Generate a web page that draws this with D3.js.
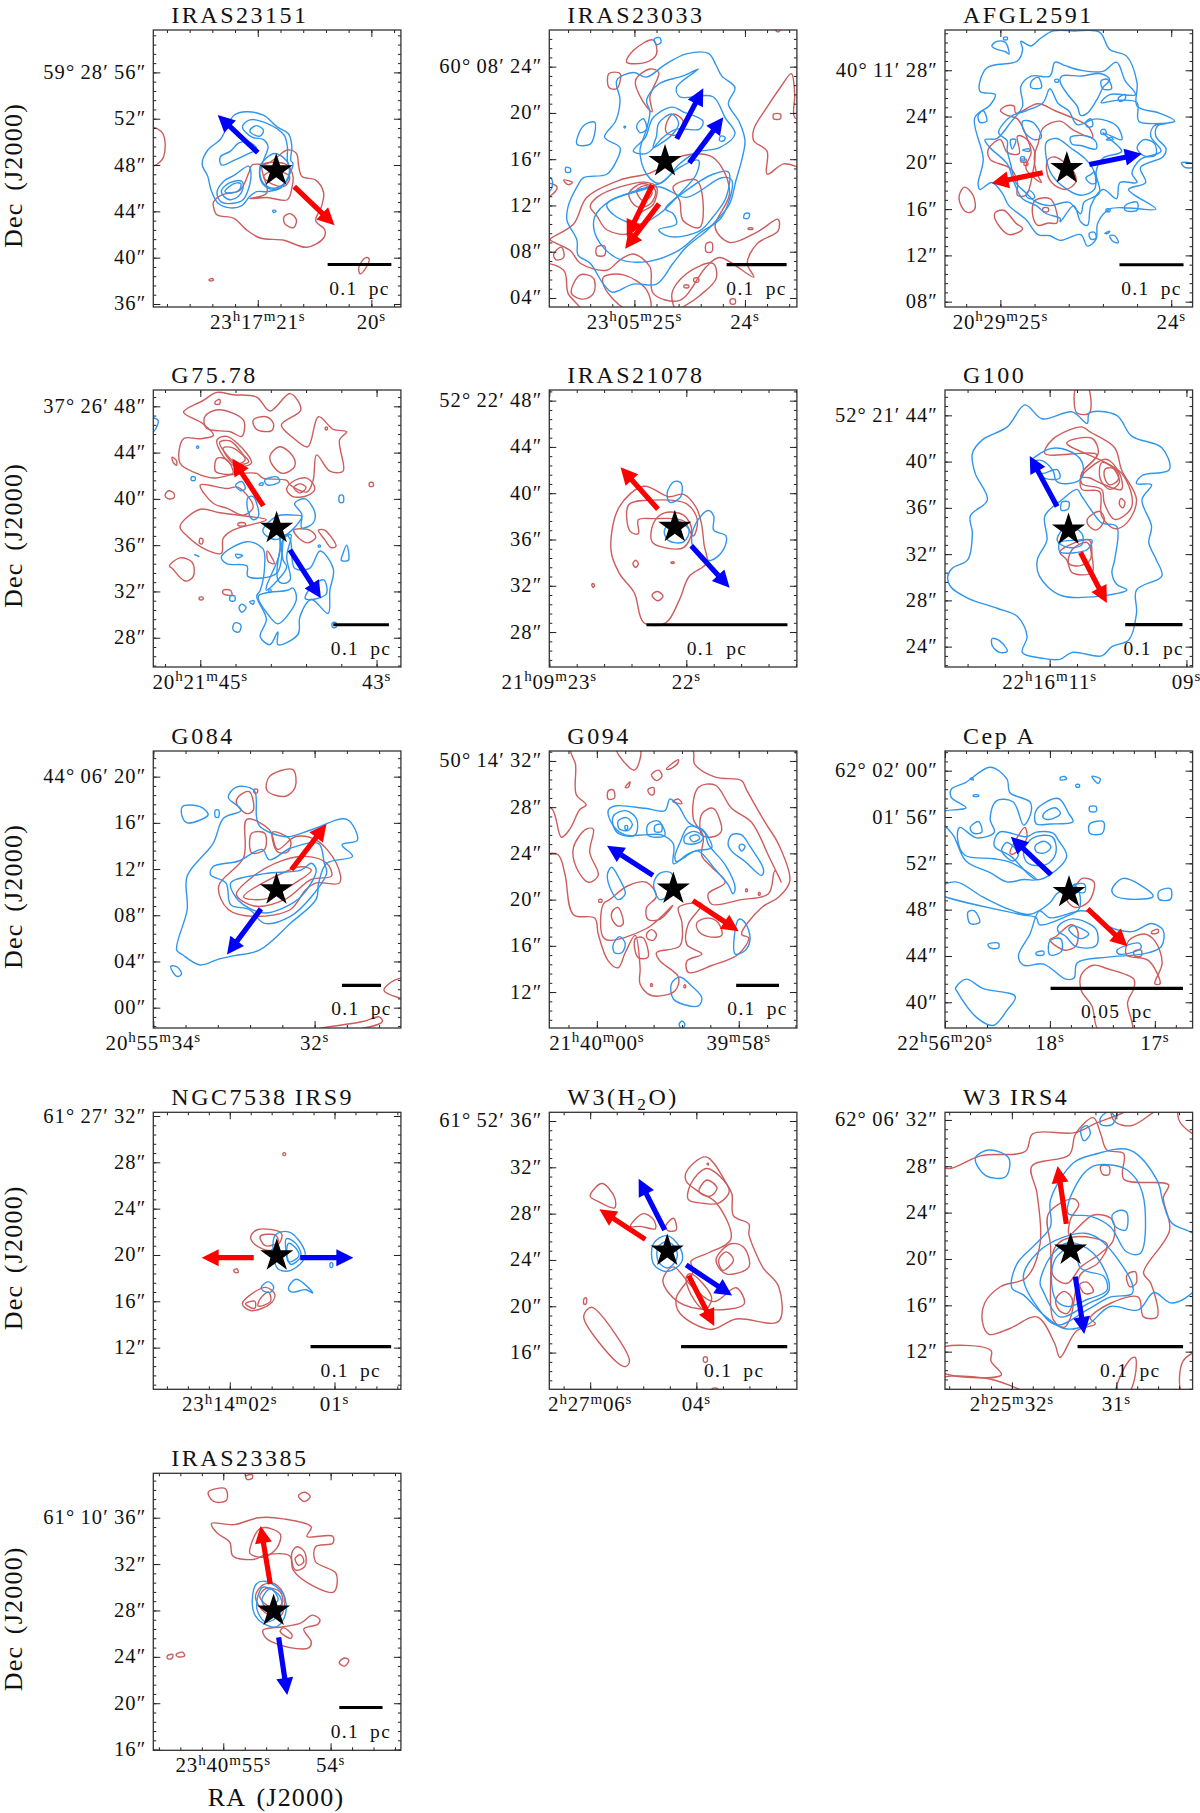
<!DOCTYPE html>
<html><head><meta charset="utf-8">
<script src="https://cdn.jsdelivr.net/npm/d3@7"></script>
<style>html,body{margin:0;padding:0;background:#fff}svg{display:block}text{font-family:"Liberation Serif",serif;fill:#111}</style>
</head><body><div id="chart"></div>
<script>
const panelTitles=["IRAS23151","IRAS23033","AFGL2591","G75.78","IRAS21078","G100","G084","G094","Cep\u2009A","NGC7538\u2009IRS9","W3(H_2O)","W3\u2009IRS4","IRAS23385"];
const raDomains=[[21.92,19.74],[25.77,23.53],[25.324,23.875],[45.533,42.724],[23.0,21.193],[12.53,8.91],[34.0,30.93],[60.67,57.18],[19.0,16.64],[2.73,0.366],[6.77,2.106],[32.64,30.27],[55.652,53.345]];
const decDomains=[[35.74,59.66],[3.22,27.17],[7.54,31.48],[25.47,49.41],[24.98,48.92],[22.24,46.19],[-1.76,22.22],[8.89,32.86],[37.78,61.7],[8.4,32.32],[12.83,36.75],[8.75,32.66],[15.94,39.83]];
const raTicks=[[21,20],[25,24],[25,24],[45,43],[23,22],[11,9],[34,32],[60,58],[19,18,17],[2,1],[6,4],[32,31],[55,54]];
const raLabels=[["23^h17^m21^s","20^s"],["23^h05^m25^s","24^s"],["20^h29^m25^s","24^s"],["20^h21^m45^s","43^s"],["21^h09^m23^s","22^s"],["22^h16^m11^s","09^s"],["20^h55^m34^s","32^s"],["21^h40^m00^s","39^m58^s"],["22^h56^m20^s","18^s","17^s"],["23^h14^m02^s","01^s"],["2^h27^m06^s","04^s"],["2^h25^m32^s","31^s"],["23^h40^m55^s","54^s"]];
const raMinor=[0.2,0.2,0.2,0.4,0.2,0.4,0.4,0.4,0.2,0.2,0.5,0.2,0.2];
const decTicks=[[56,52,48,44,40,36],[24,20,16,12,8,4],[28,24,20,16,12,8],[48,44,40,36,32,28],[48,44,40,36,32,28],[44,40,36,32,28,24],[20,16,12,8,4,0],[32,28,24,20,16,12],[60,56,52,48,44,40],[32,28,24,20,16,12],[36,32,28,24,20,16],[32,28,24,20,16,12],[36,32,28,24,20,16]];
const decLabels=[["59° 28′ 56″","52″","48″","44″","40″","36″"],["60° 08′ 24″","20″","16″","12″","08″","04″"],["40° 11′ 28″","24″","20″","16″","12″","08″"],["37° 26′ 48″","44″","40″","36″","32″","28″"],["52° 22′ 48″","44″","40″","36″","32″","28″"],["52° 21′ 44″","40″","36″","32″","28″","24″"],["44° 06′ 20″","16″","12″","08″","04″","00″"],["50° 14′ 32″","28″","24″","20″","16″","12″"],["62° 02′ 00″","01′ 56″","52″","48″","44″","40″"],["61° 27′ 32″","28″","24″","20″","16″","12″"],["61° 52′ 36″","32″","28″","24″","20″","16″"],["62° 06′ 32″","28″","24″","20″","16″","12″"],["61° 10′ 36″","32″","28″","24″","20″","16″"]];
const stars=[[20.838,47.51],[24.723,15.80],[24.611,19.51],[44.134,37.47],[22.084,37.06],[10.724,34.10],[32.473,10.22],[58.921,20.92],[17.818,49.50],[1.551,19.94],[4.548,24.78],[31.438,20.78],[54.531,27.97]];
const scaleBars=[[20.385,19.824,39.41],[24.166,23.623,6.88],[24.303,23.928,11.19],[43.491,42.860,29.12],[22.291,21.262,28.63],[9.895,9.058,25.90],[31.661,31.176,1.93],[58.036,57.432,12.58],[17.994,16.732,41.21],[1.229,0.459,12.09],[4.288,2.288,16.52],[31.371,30.361,12.43],[53.919,53.516,19.63]];
const scaleLabels=["0.1 pc","0.1 pc","0.1 pc","0.1 pc","0.1 pc","0.1 pc","0.1 pc","0.1 pc","0.05 pc","0.1 pc","0.1 pc","0.1 pc","0.1 pc"];
const blueArrows=[[[21,49.07,21.353,52.32]],[[24.617,17.76,24.377,22.13],[24.503,15.68,24.196,19.63]],[[24.479,19.86,24.172,20.78]],[[43.983,35.60,43.631,31.42]],[[21.964,35.45,21.684,31.83]],[[10.891,36.12,11.291,40.49]],[[32.665,8.55,33.086,4.60]],[[59.209,22.10,59.856,24.66]],[[17.99,51.02,18.373,54.30]],[[1.327,19.77,0.82,19.77]],[[4.596,26.59,5.087,31.02],[4.192,23.57,3.327,20.92]],[[31.393,18.47,31.307,13.53]],[[54.484,25.67,54.404,20.72]]];
const redArrows=[[[20.679,46.13,20.324,42.81]],[[24.837,13.78,25.069,9.27],[24.777,12.14,25.084,8.26]],[[24.752,19.14,25.051,18.24]],[[44.285,39.40,44.637,43.48]],[[22.207,38.62,22.48,42.24]],[[10.549,32.14,10.164,27.77]],[[32.288,11.94,31.853,15.91]],[[58.647,19.91,58,17.27]],[[17.64,48.06,17.261,44.83]],[[1.771,19.77,2.268,19.77]],[[4.962,25.78,5.827,28.37],[4.144,22.65,3.663,18.30]],[[31.479,23.02,31.562,28.03]],[[54.562,30.27,54.652,35.28]]];

// contours: flat RA(s),Dec(") vertex lists per panel
const blue1=[[21.21,52.3,21.10,52.6,20.95,52.3,20.83,51.3,20.73,50.7,20.70,49.6,20.71,48.4,20.69,48.1,20.73,47.0,20.80,46.0,20.92,45.7,21.01,45.7,21.07,45.3,21.14,44.5,21.24,44.3,21.35,44.7,21.41,45.8,21.44,47.0,21.49,48.1,21.44,49.3,21.33,50.2,21.27,51.3],
[21.135,51.3,21.07,51.9,20.92,51.6,20.77,50.6,20.74,49.6,20.74,48.4,20.72,47.4,20.77,46.3,20.86,45.9,20.95,46.3,20.985,47.3,20.95,48.4,20.91,49.6,20.95,50.2,21.05,50.4],
[21.07,51.0,21.01,51.4,20.95,51.0,20.98,50.5,21.05,50.7],
[21.33,48.7,21.24,49.2,21.17,49.9,21.08,50.0,21.01,49.4,21.1,48.9,21.21,48.4,21.32,48.0],
[21.36,45.6,21.30,46.6,21.21,47.1,21.08,47.9,21.06,47.3,21.08,46.0,21.13,45.0,21.21,44.7,21.32,44.8],
[21.32,45.8,21.24,46.5,21.14,46.6,21.13,46.0,21.17,45.3,21.24,45.0,21.30,45.3],
[21.29,45.7,21.21,46.4,21.15,46.4,21.16,45.9,21.24,45.6],
[20.85,49.0,20.73,48.1,20.74,46.7,20.85,46.0,20.95,46.4,20.98,47.9],
[20.87,44.05,20.85,44.1,20.84,44.0,20.86,43.9]];
const red1=[[21.39,44.8,21.32,45.4,21.16,45.8,21.08,47.3,21.05,48,20.92,48.1,20.83,48.7,20.74,49.3,20.66,49.0,20.64,47.9,20.61,47.0,20.49,46.7,20.42,45.6,20.44,44.4,20.49,43.2,20.41,42.4,20.42,41.7,20.57,40.9,20.77,41.5,20.98,41.7,21.10,42.4,21.21,43.4,21.36,43.7,21.39,44.4],
[21.07,45.1,20.92,45.6,20.96,48.0,20.74,48.0,20.69,47.0,20.70,46.0,20.74,45.0,20.92,45.2],
[20.95,47.0,20.86,46.3,20.76,46.2,20.72,47.0,20.86,47.5],
[20.715,43.8,20.66,43.25,20.685,42.6,20.76,42.9,20.77,43.5],
[22.2,51.2,21.85,50.9,21.83,48.7,21.92,47.9,22.2,47.5],
[20.11,39.2,20.05,40.0,20.02,39.9,20.05,39.1,20.10,38.6],
[21.43,38.1,21.40,38.2,21.39,38.05,21.42,38.0]];
const blue2=[[25.16,22.8,25.01,23.5,24.89,23.1,24.72,24.2,24.53,25.1,24.33,25.15,24.26,24.1,24.21,23.2,24.09,22.2,24.15,20.8,24.05,19.2,24.0,17.6,24.03,15.9,24.08,14.2,24.14,12.1,24.23,11.0,24.35,9.8,24.53,8.4,24.65,7.0,24.80,5.2,25.01,5.2,25.2,4.5,25.28,5.2,25.40,7.0,25.51,7.7,25.52,9.0,25.61,10.7,25.6,11.9,25.52,13.6,25.46,14.4,25.25,14.7,25.16,15.9,25.13,17.0,25.27,17.9,25.17,19.3,25.13,21.1],
[24.89,21.1,24.78,22.5,24.56,23.2,24.42,23.8,24.62,22.2,24.59,21.4,24.29,21.4,24.18,19.6,24.09,18.2,24.23,17.0,24.44,16.6,24.59,15.6,24.77,13.9,24.89,14.7,24.95,16.7,24.89,18.6,24.86,20.1],
[25.36,11.0,25.22,12.4,24.98,13.2,24.77,13.6,24.53,12.7,24.21,14.4,24.12,14.2,24.21,11.0,24.41,9.6,24.62,8.0,24.93,7.1,25.17,7.5,25.34,9.2],
[24.83,19.6,24.66,20.5,24.56,20.1,24.38,19.3,24.41,18.6,24.62,18.6,24.74,17.9,24.89,16.5,25.01,16.7,24.90,17.9],
[24.78,19.1,24.66,19.9,24.60,19.1,24.65,18.2,24.77,17.3,24.83,17.0,24.80,18.0],
[25.25,12.1,24.98,13.3,24.77,13.9,24.59,15.3,24.42,15.9,24.44,14.7,24.59,13.0,24.77,11.3,24.95,10.4,25.16,11.0],
[24.72,11.7,24.53,13.3,24.29,14.7,24.15,14.9,24.17,12.7,24.29,11.0,24.41,9.8,24.68,9.3,24.78,9.9,24.62,10.4,24.65,11.3],
[25.52,17.3,25.46,18.9,25.36,19.2,25.36,18.2,25.4,17.3],[24.98,18.9,24.92,19.5,24.89,18.6,24.95,18.3],[25.095,18.8,25.085,18.85,25.08,18.75,25.09,18.7],[25.62,15.3,25.58,15.2,25.58,14.9,25.62,14.9],[24.82,26.4,24.77,26.5,24.76,26.1,24.8,25.9],[24.22,18.0,24.18,17.9,24.19,17.6,24.23,17.6],[24.0,11.3,23.96,11.3,23.97,10.9,24.01,10.9],[25.9,14.4,25.75,14.3,25.76,13.3,25.9,13.2]];
const red2=[[25.07,24.4,25.01,25.4,24.83,26.3,24.80,25.1,24.89,24.4],[25.23,23.4,25.13,23.4,25.16,22.1,25.23,22.2],[24.99,22.8,24.86,23.8,24.78,23.5,24.86,21.4,24.84,20.1,24.93,21.1],[24.71,19.1,24.65,19.9,24.56,19.3,24.62,18.1,24.71,18.3],
[23.92,18.6,23.80,20.5,23.68,22.2,23.58,23.4,23.55,21.6,23.55,19.6,23.44,19.3,23.44,15.3,23.65,15.6,23.80,14.7,23.80,16.7,23.92,17.6],
[25.76,9.1,25.55,10.4,25.43,12.7,25.13,14.2,24.86,14.8,24.56,16.3,24.32,16.3,24.21,15.3,24.14,13.0,24.27,10.1,24.14,8.8,23.89,9.7,23.70,10.8,23.70,9.8,23.89,8.7,23.98,7.0,23.92,5.8,24.23,7.5,24.35,6.7,24.59,3.8,24.83,4.4,24.86,6.7,25.01,7.8,25.13,7.3,25.25,6.4,25.49,7.0,25.58,8.1,25.76,9.0],
[25.40,11.9,25.34,12.7,25.13,13.6,24.89,14.0,24.80,13.6,24.83,12.1,24.95,11.3,25.04,9.6,25.25,9.9,25.34,11.1],
[25.05,13.0,24.93,13.9,24.81,13.3,24.86,12.1,24.98,11.9],[24.98,13.3,24.89,13.7,24.84,13.0,24.92,12.4],[24.65,13.6,24.44,14.2,24.38,12.4,24.41,10.1,24.56,10.7,24.59,12.4],
[25.9,6.9,25.64,6.4,25.60,4.4,25.49,3.0,25.9,3.0],[25.57,4.4,25.49,6.0,25.37,5.7,25.37,4.4,25.46,3.9],[25.28,5.8,25.1,6.0,24.89,4.7,24.86,3.0,25.07,3.0,25.27,4.9],[25.73,7.8,25.66,8.4,25.64,7.5,25.71,7.3],[25.34,8.4,25.27,8.5,25.27,7.7,25.34,7.7],
[24.66,4.4,24.53,6.1,24.29,7.0,24.26,5.7,24.41,4.2,24.53,3.4,24.62,3.0],[24.46,5.7,24.42,5.7,24.42,5.4,24.46,5.4],[24.55,5.1,24.51,5.1,24.51,4.9,24.55,4.9],[24.13,3.9,24.09,3.9,24.09,3.5,24.13,3.5],[24.35,8.7,24.3,8.8,24.3,8.0,24.35,8.0],[23.97,10.05,23.93,10.05,23.93,9.95,23.97,9.95],[23.74,19.9,23.68,19.9,23.68,19.5,23.74,19.5],[25.64,14.2,25.56,14.0,25.6,13.8],[25.9,14,25.7,13.6,25.75,12.9,25.9,12.5],[23.74,27.4,23.67,27.4,23.7,27.0]];
const blue3=[[25.05,30.1,25.02,30.5,24.97,30.4,24.95,29.4,24.97,29.6,25.02,29.8],
[25.08,28.2,24.90,28.8,24.87,29.8,24.88,30.5,24.82,30.1,24.77,30.7,24.69,31.4,24.57,31.4,24.42,31.3,24.36,29.8,24.26,29.2,24.20,26.9,24.20,24.9,24.07,24.3,23.98,23.6,24.08,23.2,24.09,22.3,24.03,21.2,24.05,20.5,24.18,19.6,24.15,18.3,24.25,17.7,24.09,16,24.25,16.1,24.36,16,24.43,14.8,24.44,13.4,24.49,12.8,24.53,13.8,24.65,13.3,24.71,13.7,24.78,13.8,24.85,15.1,24.95,16.3,24.99,17.4,25.05,18.3,25.12,17.7,25.13,18.2,25.10,20.3,25.15,23.9,25.06,25,25.03,25.9,25.12,26.2],
[24.87,24.9,24.88,26.6,24.82,27.5,24.71,27.5,24.68,28.7,24.62,28.4,24.53,28,24.40,27.9,24.32,28.7,24.27,27.1,24.21,25.9,24.36,25.9,24.41,25.2,24.32,25.4,24.20,25.2,24.19,23.6,24.03,23.4,24.10,23.2,24.12,22.3,24.06,21,24.18,20.3,24.23,19.1,24.20,18.3,24.30,18.3,24.32,16.9,24.40,17.7,24.47,16.3,24.49,14.6,24.53,14.9,24.57,16.3,24.65,14.9,24.65,15.2,24.73,15.6,24.79,16.3,24.87,16.9,24.92,18.3,24.96,19.9,25.06,21.3,25.09,22,25.02,22.1,24.94,23.5],
[24.64,27.5,24.53,27.5,24.41,27.7,24.36,27.2,24.40,26.5,24.43,25.6,24.49,24.3,24.53,24.1,24.55,24.9,24.60,25.8,24.65,27],
[25.01,22.6,24.94,24,24.85,24.5,24.75,25.2,24.71,26.4,24.66,25.1,24.60,24.5,24.55,23.3,24.44,23.8,24.32,23.2,24.29,22,24.40,22.6,24.29,21,24.40,20.4,24.44,19.2,24.42,17.4,24.51,16.6,24.53,15.6,24.60,16.6,24.71,16.3,24.79,16.6,24.85,17.4,24.91,18.3,24.94,19.9,24.96,21.1,24.96,21.9],
[24.73,21.8,24.67,22.1,24.59,21.3,24.50,20.3,24.45,19.2,24.45,17.7,24.53,17.2,24.61,17.7,24.70,19,24.73,20.3],
[24.82,27,24.78,27.4,24.76,26.5,24.82,26.5],[24.68,27.2,24.66,27.2,24.66,27,24.68,27],[25.13,24.1,25.10,24.5,25.08,23.6,25.12,23.5],[24.87,23.6,24.81,23.5,24.76,22.2,24.80,22,24.86,22.7],[24.50,23.5,24.47,23.8,24.46,23.2,24.49,23.1],[24.41,22.8,24.39,22.9,24.38,22.5,24.41,22.5],[24.38,22,24.35,22.2,24.34,22],[24.59,22.2,24.49,22.3,24.44,21.8,24.44,21.2,24.53,21.5,24.58,21.6],[24.20,21.3,24.16,22,24.10,21.7,24.09,20.7,24.16,20.6],[24.41,27.1,24.37,27.2,24.35,26.4,24.40,26.4],[24.31,25.6,24.27,25.9,24.27,25.5,24.30,25.3],[24.94,22,24.91,22,24.93,21.2],[24.87,21.1,24.83,21.2,24.83,21],[24.88,20.5,24.86,20.5,24.86,20.2,24.88,20.2],[24.47,19,24.45,19.2,24.44,18.3,24.47,18.2,24.50,18.7],[24.83,17.6,24.81,17.4,24.80,17,24.83,16.9,24.85,17.2],[24.27,16.3,24.20,16.6,24.20,15.9,24.27,15.9],[24.38,16,24.36,16,24.36,15.8,24.38,15.8],[24.39,13.9,24.36,14.1,24.37,13.9],[24.36,13.7,24.33,13.7,24.31,13.1,24.34,13.2],[24.48,13.9,24.45,14,24.44,13.5,24.47,13.4],[23.94,20,23.89,20,23.85,19.7,23.92,19.6],[24.98,30.85,24.96,30.85,24.96,30.65,24.98,30.65]];
const red3=[[25,24.5,24.97,24.9,24.92,24.9,24.91,24.3,24.78,25.1,24.68,24.5,24.58,23.9,24.49,23.2,24.46,22.2,24.57,22.8,24.65,23.6,24.75,23,24.78,21.6,24.80,20.7,24.79,19.2,24.76,18.3,24.85,19.5,24.82,20.9,24.84,22.0,24.90,23.8,24.96,24.1],
[25.07,21.2,25,22,24.96,20.9,24.89,20.8,24.90,22.3,24.86,22.2,24.80,21,24.81,19.2,24.85,17.2,24.90,17.2,24.90,18.3,24.94,19.5,25.06,20.3],
[24.72,20.3,24.68,20.5,24.57,19.2,24.56,18.3,24.62,17.7,24.70,18.3,24.73,19.5],
[24.80,16.7,24.71,16.9,24.67,15.7,24.67,14.8,24.72,14.8,24.78,14.6,24.81,15.4],
[24.88,20.3,24.85,20.3,24.85,20.1,24.88,20.1],[24.86,20,24.84,20,24.84,19.8,24.86,19.8],[24.75,16.1,24.72,16.1,24.72,15.8,24.75,15.8],
[25.24,17.2,25.21,17.9,25.16,17.2,25.15,16,25.19,15.7,25.23,16.3],[25.03,15.7,24.98,15.9,24.91,14.8,24.87,14.3,24.95,13.8,25.03,15.1]];
const blue4=[[44.76,35,44.47,36.3,44.29,35.7,44.27,34.2,44.32,32.1,44.36,31.6,44.25,29.6,44.32,28.1,44.21,27.4,44.12,28.5,44.12,27.4,43.89,28.3,43.87,29.8,43.74,31.3,43.55,30.1,43.53,32.1,43.49,33.9,43.64,35.5,43.76,34,43.93,34,43.98,36.5,44.04,36.9,44.13,33.6,44.46,33.3,44.47,34.2,44.70,34.4],
[44.34,31.6,44.01,32.1,43.95,32.3,43.91,31.3,44.12,29.2,44.21,29.8],[43.81,31.4,43.74,32.4,43.6,33,43.57,31.8,43.74,31.3],[44.12,33,44.05,36.6,43.97,36.9,44.02,35.0,43.98,33,44.06,32.7],[44.25,32.4,44.1,35.3,44.1,36.9,44.06,34.7,44.02,34.1,44.25,32.1],[44.29,37.3,44.13,38.5,43.94,38.6,43.85,38.5,43.96,37.3,44.13,36.5,44.25,36.8],[43.93,39.6,43.81,40,43.7,38.8,43.72,37.9,43.85,37.5,43.85,38.7],[44.46,40.1,44.4,40.2,44.34,38.5,44.4,38.2,44.46,39],[44.6,41.2,44.53,41.5,44.49,40.9,44.54,40.7],[44.27,41.6,44.13,41.9,44.1,41.5,44.24,41.2],[44.33,41.3,44.29,41.4,44.29,41.2,44.33,41.2],[45.1,41.9,45.06,41.9,45.06,41.6,45.1,41.6],[43.42,40.3,43.38,40.3,43.38,39.7,43.42,39.7],[43.38,35.3,43.34,36,43.32,34.7,43.4,34.7],[44.6,29.3,44.54,29.1,44.56,28.5,44.62,28.6,44.63,29],[44.53,30.9,44.48,30.6,44.53,30.2,44.56,30.6],[44.44,31.1,44.39,31.2,44.4,30.9],[44.66,31.6,44.61,31.6,44.61,31.2,44.66,31.2],[44.6,35.2,44.52,35.1,44.58,34.9],[45.6,47,45.48,46.8,45.52,45.9,45.6,45.6],[45.07,35.2,45.04,35.1,45.01,35.0],[43.5,29.3,43.46,29.3,43.46,28.9,43.5,28.9],[43.66,36,43.64,36,43.64,35.85,43.66,35.85],[44.22,32.2,44.2,32.2,44.2,31.95,44.22,31.95],[45.04,44.55,45.02,44.55,45.02,44.4,45.04,44.4]];
const red4=[[45.19,47.5,44.97,48.5,44.81,49.2,44.63,49.0,44.36,48.8,44.21,47.6,43.98,49.1,43.86,47.7,44.08,46.4,43.95,45.3,43.78,44.5,43.66,47.1,43.49,46.0,43.34,45.8,43.42,45.1,43.38,42.4,43.53,42.4,43.68,43.8,43.72,41.6,43.79,40.6,43.98,41.2,44.02,41.6,44.29,41.8,44.36,42.2,44.63,42.1,44.85,41.8,45.04,42.2,45.23,43.1,45.19,45.2,45.0,45.2,44.85,45.5,44.97,46.5],
[44.95,47.1,44.8,47.7,44.51,46.8,44.53,45.4,44.66,45.8,44.93,46.1],[44.81,45.1,44.70,45.4,44.47,43.9,44.42,43.1,44.59,42.8,44.74,43.7],[44.78,44.9,44.66,45.0,44.51,43.8,44.45,43.2,44.57,43.0,44.72,44.0],[44.74,44.4,44.63,44.4,44.49,43.4,44.61,43.0],[44.83,42.4,44.81,43.5,44.70,43.4,44.63,42.2,44.78,42.2],[44.4,46.8,44.25,47.1,44.17,46.5,44.19,45.9,44.36,46.0],[44.21,43.7,44.10,44.5,43.95,43.7,43.93,42.8,44.06,42.2,44.17,42.8],[44.83,48.4,44.78,48.6,44.78,48.2,44.83,48.2],[45.32,43.6,45.27,43.3,45.27,42.9,45.31,43.2],[45.36,40.7,45.3,40.5,45.3,40.1,45.36,40.0,45.4,40.3],[44.02,40.8,43.95,41.5,43.79,41.8,43.7,40.9,43.78,40.3,43.95,40.2],[43.94,41,43.87,41.3,43.8,41,43.87,40.5],[45,41.2,44.70,40.9,44.57,41,44.4,39.3,44.51,38.6,44.7,39.2,44.85,39.6],[45.23,37.6,45,39.1,44.78,38.8,44.47,38.5,44.25,38.2,44.63,37.3,44.74,36.6,44.76,35.3,44.93,35.6,45.15,36.8],[44.23,34.6,44.16,34.4,44.24,35.5],[44.57,37.9,44.49,37.9,44.49,37.7,44.57,37.7],[45.35,34.2,45.23,34.9,45.09,34.5,45.08,33.3,45.17,32.9,45.32,34],[44.74,32.1,44.66,32.1,44.64,31.7,44.74,31.8],[45.01,31.5,44.97,31.5,44.97,31.3,45.01,31.3],[43.94,37.3,43.76,37.3,43.69,36.7,43.78,36.2,43.88,36.6],[43.66,37.3,43.59,37.3,43.46,35.9,43.52,35.8,43.59,36.5],[43.58,46.2,43.56,46.2,43.56,46,43.58,46],[43.08,41.4,43.04,41.4,43.04,41.1,43.08,41.1],[45,36.6,44.97,36.5,44.98,36.1,45.01,36.2]];
const blue5=[[22.14,40.0,22.09,41.0,22.04,40.9,22.04,39.7,22.12,39.2],[21.96,35.7,21.93,37.4,21.84,38.5,21.8,38,21.8,36.8,21.71,36.3,21.73,35.1,21.82,34.2,21.9,34.5],[22.07,37.6,21.98,36.8,22.02,35.8,22.13,35.9,22.16,36.8]];
const red5=[[22.55,35.1,22.49,38.8,22.31,40.6,22.13,39.7,22.02,39.9,21.93,38.8,21.89,37.4,21.87,35.5,21.85,34,21.98,32.8,22.05,30.8,22.15,28.8,22.31,28.8,22.38,31.4,22.49,33.1],[22.41,36.7,22.42,39,22.25,39.4,22,39.1,21.92,37.7,21.95,36.3,22.02,37.6,22.24,37.8,22.35,37.7,22.35,36.5],[22.16,38.3,22.02,38.1,21.96,36.8,22.02,35.3,22.16,35.3,22.25,35.8,22.24,37.4],[22.25,31.2,22.21,31.5,22.17,31.1,22.21,30.7],[22.39,33.9,22.37,34.2,22.35,33.9,22.37,33.6],[22.69,32.1,22.68,32.2,22.67,32,22.68,31.85],[22.11,34.05,22.09,34.05,22.09,33.95,22.11,33.95]];
const blue6=[[12.49,30.1,12.42,30.8,12.2,31.5,12.13,33.8,12.16,35.3,11.91,36.7,12.09,39,12.13,40.7,11.98,41.9,11.62,43,11.36,44.9,11.11,43.7,10.67,44.3,10.45,43.3,10.42,44.2,10.02,44,9.8,42.2,9.36,41.2,9.25,39.3,9.65,38.8,9.73,38.1,9.51,38,9.65,36.7,9.51,34.4,9.55,33,9.44,31.5,9.36,30.1,9.73,28.9,9.73,26.9,9.84,24.6,10.09,24,10.24,23.2,10.67,23.5,10.85,22.9,11.11,23,11.4,23.5,11.33,24.9,11.47,26.6,11.76,27.3,12.2,28.2,12.45,29.2],
[11.18,31.5,11.04,33.2,11.07,35.3,10.82,36.7,10.6,37.6,10.53,37,10.38,35.7,10.24,34.7,10.02,34.4,10.05,31.5,10.09,30.4,10.02,29.4,9.87,28.9,10.82,28.4,11.15,30.1],
[11.26,40.1,11.0,41.1,10.75,41,10.53,40,10.53,38.6,10.72,38.1,10.9,38.3,10.95,39.2,11.12,40.1],
[11.07,39,10.89,39.3,10.85,38.6,11.04,38.5,11.14,38.9],[10.75,34.4,10.53,33.8,10.53,32.8,10.75,32.6,10.89,33.2],[11.84,24.7,11.73,24.5,11.62,23.6,11.73,23.5,11.84,24.1],[10.82,36.5,10.72,36.5,10.73,35.9,10.83,35.8],[10.85,32.2,10.67,32.1,10.45,32.4,10.38,33.2,10.6,33.2,10.85,33]];
const red6=[[10.6,46.5,10.45,46.5,10.42,44.2,10.6,44.2,10.64,45],[11.07,40.7,10.96,41.9,10.53,43,10.42,42.6,10.05,41.2,9.95,39.3,9.73,36.7,9.87,34.7,10.05,34.2,10.24,35.3,10.27,37.4,10.53,37.6,10.53,39,10.31,40.6],[10.75,41.6,10.38,42,10.29,40.7,10.53,39,10.53,38.1,10.24,37.6,10.2,36.4,10.05,35,9.8,36.1,9.95,39],[10.53,38.7,10.18,40.2,9.98,39,9.95,37.6,10.24,38.1,10.42,38.6],[10.18,39.4,10.03,39.3,10,38.4,10.13,38,10.2,38.7],[10.24,39.9,10.08,39.5,9.98,38.2,10.12,37.6,10.26,38.5],[9.96,36.8,9.9,36.5,9.93,36,9.98,36.3],[10.85,32.2,10.42,33.2,10.38,31.8,10.38,30.4,10.67,30.4,10.75,31.5],[10.45,35,10.27,35.7,10.2,35,10.31,34.1,10.42,34.4],[10.67,32.4,10.45,33,10.4,31.6,10.55,31,10.72,31.2]];
const blue7=[[33.71,5,33.58,8.5,33.58,11.4,33.26,14.2,33.13,16.4,32.91,17.1,33.07,18.2,32.97,19.1,32.75,18.8,32.72,16.5,32.68,15.7,32.36,14.8,32.04,15.4,31.6,16.3,31.47,14.5,31.66,14.1,31.53,13.1,31.85,12.5,31.95,10.8,31.98,9.4,32.3,7.3,32.68,5,33,4.5,33.19,4.2,33.42,3.7,33.64,4.6],
[33.29,11.5,33.26,12.2,32.94,12.7,32.65,13.7,32.56,12.8,32.3,13.8,31.95,14.2,31.88,12.5,31.85,11.7,32.04,9.6,32.3,7.9,32.62,7.3,32.81,8.5,33.04,8.9,33.1,10.8],
[33.04,10.8,32.62,11.6,32.17,11.9,32.04,12.5,31.98,11.9,32.17,9.6,32.4,8.6,32.62,8.2,32.88,8.9,33,9.8],
[33.64,17.4,33.42,17.4,33.32,16.7,33.58,16,33.64,16.5],[33.23,17.1,33.19,17.1,33.19,16.5,33.23,16.5],[33.78,3.6,33.7,3.5,33.65,2.9,33.7,2.7,33.76,3.1]];
const red7=[[32.56,20,32.27,20.6,32.24,19.1,32.36,18.3,32.59,18.8],[32.75,18.9,32.71,18.9,32.71,18.6,32.75,18.6],[32.94,18.3,32.81,18.7,32.76,17.1,32.84,16.8,32.97,17.7],
[33.19,10.5,32.88,13,32.84,16.3,32.56,15.4,32.46,13.7,32.24,14.8,31.98,14.5,31.73,12.5,31.69,10.8,31.98,10.8,32.11,10.2,32.3,8.5,32.75,7.9,33.07,8.5],
[32.97,9.8,32.81,11.1,32.49,12.5,32.11,13.1,31.85,12.5,31.79,11.4,32.04,11.1,32.36,9.4,32.75,8.8],[32.88,9.6,32.17,12.2,32.04,11.9,32.24,10.8,32.62,9.4],[32.78,13.4,32.78,15.1,32.62,15.1,32.62,13.7],[32.52,15.2,32.3,14.5,32.33,13.5,32.46,13.5],
[31.14,1.5,31.0,2.4,30.8,2.5,30.8,0.8],[32,-1.9,31.4,-1.2,31.2,-0.8,31.16,-1.2,31.5,-1.9]];
const blue8=[[59.84,27.7,59.75,28.1,59.32,27.9,59.04,27.7,58.97,28.7,58.85,28.1,58.71,26.7,58.48,25.8,58.43,24.8,58.19,23,58.05,21,58.08,20.5,58.15,21.3,58.33,22.6,58.57,24.2,58.73,23.9,58.92,23.1,58.92,24.8,59.09,25.6,59.32,25.6,59.6,25.6,59.77,26.4],
[59.77,27.2,59.6,27.7,59.44,27,59.46,25.6,59.65,25.6,59.75,26.1],[59.7,26.8,59.58,27.1,59.5,26.5,59.56,26,59.68,26.1],[59.6,26.4,59.57,26.4,59.57,26.1,59.6,26.1],
[59.28,26.5,59.13,26.8,59.04,25.6,59.13,25.4,59.28,25.6],[59.18,26.4,59.09,26.5,59.09,25.9,59.18,25.9],
[58.83,24.9,58.71,26.3,58.52,26.1,58.43,25.4,58.38,24.5,58.62,24.2,58.88,23.3,58.9,23.7],[58.76,25.5,58.62,25.9,58.5,25.4,58.57,24.9,58.76,24.9],[58.69,25.4,58.59,25.6,58.55,25.3,58.64,25],
[58.15,24.8,58.1,25.6,57.96,25.6,57.84,24.6,57.65,22.6,57.68,22.1,57.91,23.3,58.1,24.2],[57.995,24.6,57.96,24.8,57.91,24.6,57.96,24.2],
[59.85,22.2,59.79,22.8,59.7,22,59.6,20.5,59.7,20,59.79,20.7],[59.2,21.3,59.11,22.3,58.95,22.3,58.95,20.7,59.11,20],
[59.77,16.1,59.68,16.8,59.6,16.2,59.65,15.4,59.75,15.4],[58.05,15.3,58,18.3,57.91,18,57.84,16.6,57.91,15.6],[58.95,12.7,58.83,13.3,58.66,12.5,58.52,11.5,58.57,10.8,58.76,10.9,58.92,11.4],[58.84,9.2,58.8,9.5,58.76,9.2,58.8,8.8]];
const red8=[[60.36,33,60.3,31.7,60.29,29.1,60.15,28.2,60.24,27.8,60.38,26.1,60.5,25.4,60.64,27.9,60.9,27.8,60.9,24.1,60.55,23.9,60.45,22.2,60.33,18.7,60.03,18.4,59.98,17,59.84,14.7,59.7,14.1,59.6,15.4,59.46,16.9,59.39,14.1,59.39,12.7,59.23,11.7,58.9,12.1,58.85,13.3,59.11,14.7,59.16,15.4,58.83,16,58.8,18,58.85,19.3,58.66,19.7,58.52,19.6,58.71,17.9,58.73,16.1,58.52,15.3,58.73,14.7,58.71,13.7,58.38,14.3,58,15.3,57.86,16.7,57.96,17,57.68,19.3,57.44,20.2,57.28,21.6,57.44,24.8,57.63,26.7,57.89,29.5,57.96,30.3,58.33,30.6,58.62,31.7,58.66,33],
[59.72,33,59.47,31.2,59.39,33],
[58.64,27,58.57,29.7,58.33,29.9,58.1,27.9,57.82,26.7,57.58,23.8,57.4,21.5,57.49,22.5,57.58,20.5,57.96,20,58.38,19.6,58.43,20.5,58.19,21.5,58.38,22.8,58.52,23.8,58.5,25.5],
[58.52,25.6,58.52,27.4,58.36,27.9,58.24,26,58.29,25.6,58.4,25.4],
[60.33,24.5,60.15,26.1,60.05,26.1,60.1,24.1,59.98,22.1,60.12,21.5,60.29,22.8],
[59.89,16.6,59.91,19.6,59.82,20,59.56,21.2,59.3,21.5,59.16,20.3,59.3,19.3,59.28,18.3,59.11,18.3,58.93,19.5,59.3,17.5],
[59.77,19.1,59.7,19.3,59.63,17.9,59.7,17.7,59.79,18.4],[59.3,17,59.23,17.4,59.16,17,59.2,16.5,59.28,16.6],[59.46,16.6,59.35,16.7,59.28,15,59.42,15],[58.59,18,58.43,18.4,58.29,18,58.24,16.9,58.43,16.8,58.57,17.3],
[59.23,30.8,59.13,31.2,59.08,30.7,59.16,30.3],[59.02,31.3,58.85,32.1,58.86,31.8,58.97,31.3],[59.84,29.4,59.77,29.5,59.75,28.8,59.84,28.7],[59.6,29.7,59.53,30.2,59.56,29.7],[59.28,29.5,59.2,29.7,59.2,29.1,59.25,29.1],[58.93,28.5,58.85,28.7,58.8,28.3],[57.9,20.9,57.88,20.9,57.88,20.7,57.9,20.7],[57.72,20.6,57.7,20.6,57.7,20.4,57.72,20.4],[59.97,20,59.93,20,59.93,19.8,59.97,19.8],[59.24,12.7,59.22,12.7,59.22,12.5,59.24,12.5],[58.77,12.6,58.75,12.6,58.75,12.4,58.77,12.4]];
const blue9=[[18.94,58.4,18.8,59,18.57,60.3,18.41,59.3,18.38,58.1,18.19,57.3,18.18,56.4,18.25,55.3,18.35,57.3,18.51,57.4,18.57,55.8,18.53,54.7,18.7,54.2,18.86,55.1,18.88,54.1,18.81,52.7,18.54,52.4,18.38,52.1,18.13,50.6,18.25,50.6,18.41,50.4,18.57,51.2,18.8,52.2,18.92,54.4,19.05,55.8,19.05,56.4,18.8,56.8,18.94,57.7],
[18.37,52.6,18.53,53.5,18.48,54.7,18.22,54.3,18.13,54.7,17.97,54.6,17.92,54,17.84,52.6,18.0,51,18.13,50.6],
[18.16,54.2,17.98,54.3,17.94,53.1,18,52.1,18.1,51.8,18.22,52.1,18.25,53.1],[18.14,53.5,18.05,53.9,17.99,53.4,18.05,52.9,18.13,53],[18.46,53.1,18.41,53.8,18.3,52.8,18.35,52.2],
[18.13,56.6,17.92,57.6,17.82,56.3,17.78,55.6,18,55.4,18.13,55.4],[18.06,56.3,17.95,56.8,17.9,56.3,18,55.8,18.06,55.9],[18.76,55.1,18.68,55.6,18.65,54.7,18.73,54.6],
[19.1,49.6,18.9,50.4,18.64,49.1,18.38,48,18.19,47.6,18,48.6,17.93,49.4,17.75,50,17.72,48.1,17.85,47.4,18.1,46.7,18.13,47.3,18.29,47.6],
[18.19,45.9,18.3,44,18.25,43.2,18.06,43.3,17.85,42,17.77,42.1,17.74,43.4,17.45,43.9,17.1,44.2,16.94,44.8,16.92,46.2,17.03,46.8,17.22,46.1,17.45,46.6,17.56,47.6,17.7,47.9,18,47.3,18.1,47.9],
[17.92,46.6,17.78,47.2,17.56,46.3,17.56,44.9,17.75,44.8,17.85,45.7,17.92,46.1],[17.82,46.3,17.78,46.6,17.63,45.9,17.71,45.5],[17.36,44.5,17.15,45.1,17.13,44.7,17.26,44.2,17.35,44.2],[18,45.3,17.9,45.5,17.89,44.4,18,44.1],
[18.9,41.2,18.8,42,18.64,41.2,18.33,40.5,18.41,39.3,18.54,38,18.7,38.7,18.89,41],[17.41,49.7,17.3,50.7,17.02,49.3,17.02,49.1,17.24,48.9,17.38,49.2],[17.78,50.1,17.67,50.2,17.67,49.5,17.78,49.7],[18.78,47.8,18.72,47.9,18.67,46.9,18.76,46.8],[18.59,45,18.49,45.1,18.49,44.7,18.57,44.7],[18.13,44.3,18.06,44.4,18.06,44.1,18.13,44.1],[16.96,49.6,16.85,49.8,16.85,48.9,16.96,48.9],[18.73,57.9,18.68,57.9,18.68,57.8,18.73,57.8],[18.76,59.3,18.74,59.4,18.73,59.2],[17.9,59.4,17.86,59.5,17.84,59.3,17.9,59.2],[17.75,58.8,17.72,58.8,17.72,58.6,17.75,58.6],[17.6,59.5,17.52,59.3,17.54,58.9],[17.62,56.9,17.56,56.9,17.56,56.5,17.62,56.5],[17.62,55.4,17.49,55.6,17.5,54.6,17.62,54.6]];
const red9=[[17.69,50.7,17.58,50.4,17.63,48.7,17.76,48.2,17.84,48.9,17.76,50],[18.3,54.4,18.24,55.1,18.22,54.2,18.35,52.8,18.38,52.9],[17.7,41,17.7,42.4,17.59,43.2,17.45,42.9,17.2,42,17.2,41.2,17.26,40,17.22,37.5,17.53,37.5,17.6,39.7],[17.27,44.1,17.06,43.6,16.95,41.6,17,41.6,16.93,43.4,17,45.3,17.1,45.9,17.25,45.3],[17.94,45.7,17.8,46.7,17.74,46.3,17.75,44.9,17.86,44.5,18,45.4],[17.03,46.1,16.97,46.3,16.97,46,17.03,45.95],[17.2,44.4,17.13,44.5,17.13,44,17.19,44]];
const blue10=[[1.567,21.7,1.44,22.0,1.32,21,1.28,19.9,1.37,18.9,1.46,18.6,1.55,18.9],[1.46,21.4,1.37,21,1.32,19.9,1.42,19.2],[1.44,21,1.37,20.6,1.34,19.9,1.44,19.4],[1.7,17.2,1.63,17.7,1.58,17.2,1.61,16.8,1.68,16.9],[1.44,17.1,1.37,17.9,1.24,17.1,1.21,16.7,1.27,17.0,1.41,16.8],[1.04,19.3,1.02,19.3,1.02,18.95,1.04,18.95]];
const red10=[[1.8,21.6,1.73,22.2,1.51,21.9,1.51,21.3,1.61,20.4,1.76,20.9],[1.71,21.6,1.56,21.7,1.54,21.1,1.66,20.8],[1.88,15.8,1.66,17.2,1.57,16.6,1.61,15.8,1.8,15.2],[1.71,16.2,1.63,16.8,1.61,16,1.73,15.6],[1.85,15.8,1.76,16,1.76,15.4,1.83,15.6],[1.49,28.8,1.47,28.8,1.47,28.6,1.49,28.6],[1.96,18.7,1.93,18.8,1.92,18.5,1.95,18.5]];
const blue11=[[4.81,25.4,4.55,26.1,4.3,25,4.28,23.8,4.55,23,4.8,23.6],[4.72,25.1,4.55,25.6,4.38,24.9,4.38,24,4.55,23.3,4.72,23.9]];
const red11=[[4.19,31.6,3.82,32.9,3.42,30.5,3.33,29.7,3.3,27.8,3.01,27.1,3.01,26.2,2.9,24.8,2.74,23.3,2.45,21.7,2.45,18.7,3.25,18.9,3.73,18,4.31,19.4,4.38,20.7,4.06,23,4.1,23.9,3.78,24.6,3.35,25.8,3.62,28.9,3.96,29.9,4.19,30.8],
[4.1,30.6,3.8,31.9,3.38,30,3.58,28.9,3.87,28.9,4.15,29.2],[3.95,29.9,3.8,30.9,3.61,30.2,3.75,29.5],[3.63,24,3.35,25.4,3.11,25.1,3.01,23.4,3.44,22.8],[3.58,24,3.44,24.7,3.3,24,3.5,23.1],[4.63,22.2,4.44,23.4,4.06,21.6,3.67,20.4,3.25,21.6,3.1,20.2,3.77,19.7,4.35,20.4],[4.19,22.5,4.1,22.8,3.71,20.7,3.85,19.7,4.1,21],[6,29.5,5.78,30.6,5.54,29.4,5.54,28.5,5.87,29.1],[5.24,26.9,5,28,4.81,27.5,4.77,26.7,5.05,26.9],[4.58,26.9,4.43,27.6,4.38,26.6,4.52,26.5],[6.06,19.7,5.96,19.9,5.26,15.3,5.33,14.8,5.48,15.1,6.12,19.0],[6.11,20.7,6.07,20.7,6.08,20.2,6.12,20.2],[3.8,32.3,3.78,32.35,3.77,32.2],[3.86,15.6,3.8,15.6,3.8,15.2,3.86,15.2],[3.7,12.9,3.6,12.9,3.6,12.6,3.7,12.6]];
const blue12=[[31.89,18.5,31.76,20.5,31.5,21.9,31.28,22.2,31.12,21.4,30.85,17.9,30.85,17,31.06,16.7,31.28,15.6,31.57,14.3,31.76,15.9],
[31.73,17.9,31.63,20.2,31.46,21.4,31.22,20.5,31.07,17.3,31.28,16.1,31.54,15,31.70,17.2],
[31.58,16.5,31.62,18.8,31.57,20.2,31.41,21.1,31.35,19.3,31.27,18.9,31.12,18.5,31.09,17.3,31.28,16.5,31.47,15.9],
[31.63,25.1,31.41,28.3,31.22,29,30.87,29.4,30.61,26.8,30.55,24.8,30.47,23.1,30.23,21.9,30.23,17.6,30.47,16.2,30.64,17.1,30.79,15.6,31.06,15.9,31.28,14.3,31.5,14,31.7,15.2,31.89,16.9,32,17.5,31.95,19.6,31.76,21.4,31.63,22.8],
[31.46,24.8,31.31,27.4,31.19,28.1,30.9,27.7,30.75,25.7,30.77,20.5,30.9,20.6,31.06,22.8,31.25,23.7,31.46,23.9],
[32.35,28.7,32.22,29.4,32.03,28.7,32.06,27.1,32.25,27.2],[31.34,31.2,31.28,31.5,31.25,30.8,31.31,30.2],[31.15,32.2,31.07,32.7,31.01,32.2,31.04,31.6,31.15,31.6],[31.04,23.8,30.96,24.2,30.9,24,30.91,22.5,31.01,22.8]];
const red12=[[32.7,28.1,32.6,27.8,32.3,28.9,31.87,29.3,31.8,30.8,31.4,30.9,31.2,31.7,30.9,32.9,32.7,33],
[32.28,14.5,32.26,16.2,32.11,17.6,31.86,18.4,31.73,21.3,31.76,25.7,31.81,28,31.45,29,31.39,30.8,31.22,32.2,31.15,30.8,31.09,29.4,30.93,29.1,30.93,26.9,30.5,26.4,30.55,25.3,30.49,22.5,30.74,18.8,30.67,17.9,30.61,15,30.74,15,30.79,16.7,31.05,16.2,31.25,14.9,31.2,14.4,31.38,13.8,31.54,11.5,31.59,12.7,31.76,15,32.02,14,32.22,13.5],
[31.63,21.2,31.65,23.9,31.41,25.2,31.36,24.7,31.44,23.4,31.45,22.1,31.22,23.8,31.04,23.4,31.03,21.6,31.15,20.5,31.34,19.3,31.47,17.9,31.6,18.5],
[31.63,17.6,31.58,21.1,31.41,21.9,31.09,21.3,31.18,19.6,31.34,18.7,31.44,14.9,31.5,14.1,31.6,14.7],
[31.58,16.5,31.5,17.2,31.42,16.5,31.47,15.3,31.55,15.6],[31.35,17.8,31.28,18,31.22,17.2,31.3,17],[31.15,28,31.07,28,31.07,27.3,31.13,27.3],[30.9,18.6,30.82,18.9,30.81,17.9,30.87,17.6],
[32.7,12.2,32.2,12.1,32.2,11.2,32.1,10,32.7,10.4],[32.7,9.6,32.25,9.7,31.9,8.5,32.7,8.5],[31,8.5,30.88,11.2,30.82,11.5,30.82,9.9,30.88,8.5],[30.37,8.5,30.36,11.2,30.2,12,30.2,8.5],
[31.04,33,31.02,31.9,30.86,31.5,30.67,32.5,30.6,33],[30.4,33,30.39,31.8,30.2,30.6,30.2,33]];
const blue13=[[54.73,28.9,54.69,30.3,54.6,30.5,54.44,29.4,54.42,27.7,54.5,26.6,54.63,26.9,54.71,27.7],[54.69,28.6,54.63,30,54.47,29.2,54.47,27.7,54.6,27,54.67,27.7],[54.64,28.9,54.56,29.9,54.49,28.9,54.6,28.3]];
const red13=[[55.11,35.5,54.9,35.4,54.67,36,54.44,35.9,54.18,35.2,54.22,34.4,53.98,34.4,53.98,33.8,54.14,33.5,54.14,32.2,53.95,31.2,53.97,29.6,54.16,30.1,54.35,31.5,54.38,32.7,54.6,32.8,54.72,32.4,54.91,32.7,54.94,33.9,55.06,34.7],
[54.75,33.4,54.65,35.1,54.47,34.6,54.5,33.4,54.62,32.6,54.75,32.9],[54.36,33,54.31,33.5,54.24,33,54.24,31.8,54.33,31.5],[54.33,32.5,54.28,32.8,54.25,32.2,54.3,31.9],[55.14,38.2,54.98,38.5,54.97,37.5,55.09,37.4],[54.79,39.6,54.73,39.7,54.73,39.4,54.78,39.3],[54.3,37.9,54.24,38.2,54.19,37.8,54.25,37.4],[54.7,29.2,54.63,30.2,54.52,30.3,54.43,29.2,54.47,27.5,54.61,27.8],[54.66,29.2,54.6,29.9,54.47,29.6,54.45,28.6,54.56,28.3],[54.63,26.3,54.44,26.6,54.28,26.9,54.17,27.6,54.1,27.2,54.12,26.8,54.25,26.4,54.18,25.3,54.2,24.8,54.38,24.8,54.6,25.6],[54.47,26.2,54.44,26.5,54.36,25.9,54.37,25.6],[53.92,23.5,53.87,23.9,53.83,23.7,53.87,23.2],[55.52,24.1,55.47,24.2,55.48,23.85,55.52,23.85],[55.44,24.2,55.38,24.4,55.36,24.1,55.42,24.0]];

const blueContours=[blue1,blue2,blue3,blue4,blue5,blue6,blue7,blue8,blue9,blue10,blue11,blue12,blue13];
const redContours=[red1,red2,red3,red4,red5,red6,red7,red8,red9,red10,red11,red12,red13];

const W=1200,H=1813,PW=247.6,PH=277;
const colX=[153.3,549.3,945],rowY=[30,390,751,1112.3,1473.3];
const svg=d3.select("#chart").append("svg").attr("width",W).attr("height",H);
const lineGen=d3.line().curve(d3.curveCatmullRomClosed.alpha(0.5));

function markup(sel,str,size){
  const re=/([\^_])(.)|([^\^_]+)/g;let m,prev=0;
  while((m=re.exec(str))){
    if(m[3]){sel.append("tspan").attr("dy",prev).text(m[3]);prev=0;}
    else{const d=m[1]==="^"?-size*.36:size*.22;sel.append("tspan").attr("dy",prev+d).attr("font-size",size*.72).text(m[2]);prev=-d;}
  }
}
function minors(ticks,step,dom){
  const lo=Math.min(...dom),hi=Math.max(...dom),out=[];
  const n=Math.ceil((hi-ticks[0])/step)+1,k=Math.ceil((ticks[0]-lo)/step)+1;
  for(let i=-k;i<=n;i++){const v=ticks[0]+i*step;if(v>=lo&&v<=hi)out.push(+v.toFixed(4));}
  return out;
}
panelTitles.forEach((title,i)=>{
  const x0=colX[i%3],y0=rowY[Math.floor(i/3)];
  const g=svg.append("g").attr("transform",`translate(${x0},${y0})`);
  const x=d3.scaleLinear().domain(raDomains[i]).range([0,PW]);
  const y=d3.scaleLinear().domain(decDomains[i]).range([PH,0]);
  const clip="clip"+i;
  g.append("clipPath").attr("id",clip).append("rect").attr("width",PW).attr("height",PH);
  const plot=g.append("g").attr("clip-path",`url(#${clip})`);
  const toPts=f=>d3.range(0,f.length,2).map(k=>[x(f[k]),y(f[k+1])]);
  [[redContours[i],"#cd5c5c"],[blueContours[i],"#2f96ee"]].forEach(([set,col])=>{
    plot.selectAll(null).data(set).join("path").attr("d",f=>lineGen(toPts(f)))
      .attr("fill","none").attr("stroke",col).attr("stroke-width",1.4);
  });
  const rm=minors(raTicks[i],raMinor[i],raDomains[i]),dm=minors(decTicks[i],0.8,decDomains[i]);
  const ax=(gen,t,len,tr)=>{const a=g.append("g").attr("transform",tr).call(gen.tickValues(t).tickSize(len).tickFormat(""));
    a.select(".domain").remove();a.selectAll("line").attr("stroke","#222").attr("stroke-width",1);};
  [[3,rm,dm],[7,raTicks[i],decTicks[i]]].forEach(([len,rt,dt])=>{
    ax(d3.axisBottom(x),rt,-len,`translate(0,${PH})`);
    ax(d3.axisTop(x),rt,-len,"translate(0,0)");
    ax(d3.axisLeft(y),dt,-len,"translate(0,0)");
    ax(d3.axisRight(y),dt,-len,`translate(${PW},0)`);
  });
  g.append("rect").attr("width",PW).attr("height",PH).attr("fill","none").attr("stroke","#333").attr("stroke-width",1.3);
  const [b0,b1,bd]=scaleBars[i];
  plot.append("line").attr("x1",x(b0)).attr("x2",x(b1)).attr("y1",y(bd)).attr("y2",y(bd)).attr("stroke","#000").attr("stroke-width",3.2);
  g.append("text").attr("x",(x(b0)+x(b1))/2).attr("y",y(bd)+30).attr("text-anchor","middle").attr("font-size",19.5).attr("letter-spacing",1.3).attr("word-spacing",5).text(scaleLabels[i]);
  const arrow=(a,col)=>{
    const p0=[x(a[0]),y(a[1])],p1=[x(a[2]),y(a[3])];
    const ang=Math.atan2(p1[1]-p0[1],p1[0]-p0[0]),c=Math.cos(ang),s=Math.sin(ang);
    const hl=17,hw=8.5,sw=2.6,bx=p1[0]-hl*c,by=p1[1]-hl*s;
    const pts=[[p0[0]-s*sw,p0[1]+c*sw],[bx-s*sw,by+c*sw],[bx-s*hw,by+c*hw],p1,[bx+s*hw,by-c*hw],[bx+s*sw,by-c*sw],[p0[0]+s*sw,p0[1]-c*sw]];
    plot.append("polygon").attr("points",pts.map(q=>q.join(",")).join(" ")).attr("fill",col);
  };
  redArrows[i].forEach(a=>arrow(a,"#ff0000"));
  blueArrows[i].forEach(a=>arrow(a,"#0000ff"));
  plot.append("path").attr("d",d3.symbol(d3.symbolStar,340)()).attr("transform",`translate(${x(stars[i][0])},${y(stars[i][1])})`).attr("fill","#000");
  raTicks[i].forEach((t,k)=>{
    const tx=g.append("text").attr("x",x(t)).attr("y",PH+22).attr("text-anchor","middle").attr("font-size",21).attr("letter-spacing",.8);
    markup(tx,raLabels[i][k],21);
  });
  decTicks[i].forEach((t,k)=>{
    g.append("text").attr("x",-7).attr("y",y(t)+6.5).attr("text-anchor","end").attr("font-size",20.5).attr("letter-spacing",1.1).attr("word-spacing",-1).text(decLabels[i][k]);
  });
  const tt=g.append("text").attr("x",18).attr("y",-7.5).attr("font-size",24).attr("letter-spacing",2.5);
  markup(tt,title,24);
  if(i%3===0) svg.append("text").attr("transform",`translate(22,${y0+PH/2+7}) rotate(-90)`).attr("text-anchor","middle").attr("font-size",26).attr("letter-spacing",1.2).attr("word-spacing",4).text("Dec (J2000)");
});
svg.append("text").attr("x",276).attr("y",1806).attr("text-anchor","middle").attr("font-size",26).attr("letter-spacing",1.2).attr("word-spacing",4).text("RA (J2000)");
</script></body></html>
